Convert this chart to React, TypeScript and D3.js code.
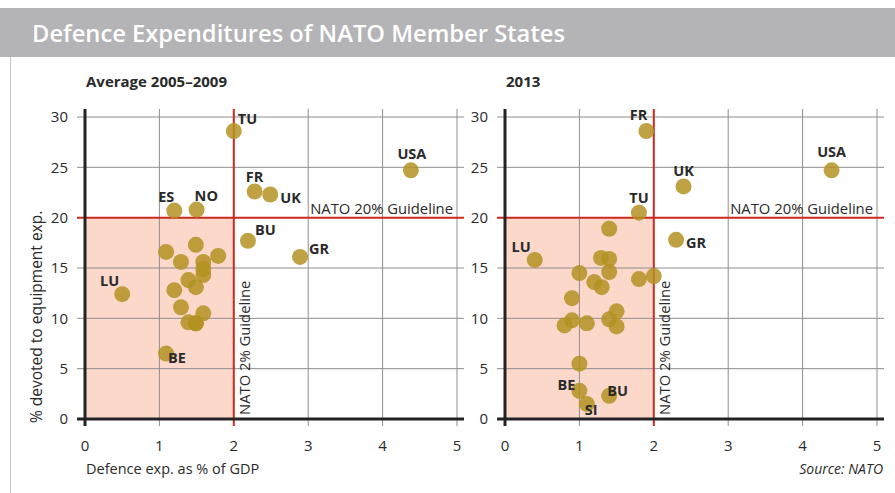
import React from "react";
import * as d3 from "d3";

const W = 895;
const H = 493;

const xTicks = [0, 1, 2, 3, 4, 5];
const yTicks = [0, 5, 10, 15, 20, 25, 30];

// Average 2005–2009
const avgNames = ["TU", "USA", "FR", "UK", "ES", "NO", "BU", "GR", "LU", "BE", "", "", "", "", "", "", "", "", "", "", "", "", "", "", ""];
const avgGdp = [2.0, 4.38, 2.28, 2.49, 1.2, 1.5, 2.19, 2.89, 0.5, 1.09, 1.09, 1.49, 1.29, 1.79, 1.59, 1.59, 1.59, 1.39, 1.2, 1.49, 1.29, 1.59, 1.39, 1.49, 1.49];
const avgEquip = [28.6, 24.7, 22.6, 22.3, 20.7, 20.8, 17.7, 16.1, 12.4, 6.5, 16.6, 17.3, 15.6, 16.2, 15.6, 14.9, 14.3, 13.8, 12.8, 13.1, 11.1, 10.5, 9.6, 9.5, 9.5];

// 2013
const y13Names = ["FR", "TU", "LU", "UK", "USA", "GR", "BE", "SI", "BU", "", "", "", "", "", "", "", "", "", "", "", "", "", "", "", "", ""];
const y13Gdp = [1.9, 1.8, 0.4, 2.4, 4.39, 2.3, 1.0, 1.1, 1.4, 1.4, 1.29, 1.4, 1.0, 1.4, 1.8, 2.0, 1.2, 1.3, 0.9, 0.9, 0.8, 1.1, 1.4, 1.5, 1.5, 1.0];
const y13Equip = [28.6, 20.5, 15.8, 23.1, 24.7, 17.8, 2.8, 1.5, 2.3, 18.9, 16.0, 15.9, 14.5, 14.6, 13.9, 14.2, 13.6, 13.1, 12.0, 9.8, 9.3, 9.5, 9.9, 10.7, 9.2, 5.5];

type Off = { dx: number; dy: number; a: "start" | "middle" | "end" };
const avgLabelPos: Record<string, Off> = {
  TU: { dx: 4, dy: -7, a: "start" },
  USA: { dx: 1, dy: -11, a: "middle" },
  FR: { dx: 0, dy: -9, a: "middle" },
  UK: { dx: 10, dy: 8, a: "start" },
  ES: { dx: 0, dy: -9, a: "end" },
  NO: { dx: -2, dy: -9, a: "start" },
  BU: { dx: 7, dy: -6, a: "start" },
  GR: { dx: 9, dy: -3, a: "start" },
  LU: { dx: -3, dy: -8, a: "end" },
  BE: { dx: 2, dy: 9, a: "start" },
};
const y13LabelPos: Record<string, Off> = {
  FR: { dx: 1, dy: -11, a: "end" },
  TU: { dx: 0, dy: -10, a: "middle" },
  LU: { dx: -4, dy: -8, a: "end" },
  UK: { dx: 0, dy: -10, a: "middle" },
  USA: { dx: 0, dy: -13, a: "middle" },
  GR: { dx: 10, dy: 8, a: "start" },
  BE: { dx: -4, dy: -1, a: "end" },
  SI: { dx: -2, dy: 11, a: "start" },
  BU: { dx: -2, dy: 0, a: "start" },
};

const FONT = "'Open Sans', 'Noto Sans', sans-serif";
const DOT = "#b39222";
const RED = "#cc2a1e";
const PINK = "#fbd8ca";
const GRID = "#8e8e8e";
const AXIS = "#232323";
const TEXT = "#2a2a2a";

function Panel({ x0, title, names, xs, ys, pos }: { x0: number; title: string; names: string[]; xs: number[]; ys: number[]; pos: Record<string, Off> }) {
  const x = d3.scaleLinear().domain([0, 5]).range([x0, x0 + 372]);
  const y = d3.scaleLinear().domain([0, 30]).range([419, 117]);
  const left = x(0) - 8;
  const right = x(5) + 7;
  const top = y(30) - 8;
  const bottom = y(0) + 7;
  return (
    <g>
      <text x={x(0) + 1} y={87} fontFamily={FONT} fontWeight={700} fontSize={15} fill={TEXT}>{title}</text>
      <rect x={x(0)} y={y(20)} width={x(2) - x(0)} height={y(0) - y(20)} fill={PINK} />
      {yTicks.filter((t) => t !== 0 && t !== 20).map((t) => (
        <line key={"h" + t} x1={left} x2={right} y1={y(t)} y2={y(t)} stroke={GRID} strokeWidth={1} />
      ))}
      {xTicks.filter((t) => t !== 0 && t !== 2).map((t) => (
        <line key={"v" + t} x1={x(t)} x2={x(t)} y1={top} y2={bottom} stroke={GRID} strokeWidth={1} />
      ))}
      <line x1={left} x2={right} y1={y(20)} y2={y(20)} stroke={RED} strokeWidth={2} />
      <line x1={x(2)} x2={x(2)} y1={top} y2={bottom} stroke={RED} strokeWidth={2} />
      <line x1={x(0)} x2={x(0)} y1={top} y2={bottom} stroke={AXIS} strokeWidth={3} />
      <line x1={left} x2={right} y1={y(0)} y2={y(0)} stroke={AXIS} strokeWidth={3} />
      {yTicks.map((t) => (
        <text key={"yt" + t} x={x(0) - 17} y={y(t)} dy="0.36em" textAnchor="end" fontFamily={FONT} fontSize={15} fill={TEXT}>{t}</text>
      ))}
      {xTicks.map((t) => (
        <text key={"xt" + t} x={x(t)} y={y(0) + 32} textAnchor="middle" fontFamily={FONT} fontSize={15} fill={TEXT}>{t}</text>
      ))}
      <text x={x(5) - 4} y={y(20) - 4} textAnchor="end" fontFamily={FONT} fontSize={14.8} fill={TEXT}>NATO 20% Guideline</text>
      <text transform={`translate(${x(2) + 16},${y(0) - 4}) rotate(-90)`} fontFamily={FONT} fontSize={14.8} fill={TEXT}>NATO 2% Guideline</text>
      {xs.map((v, i) => (
        <circle key={"c" + i} cx={x(v)} cy={y(ys[i])} r={8} fill={DOT} fillOpacity={0.85} />
      ))}
      {names.map((n, i) => {
        if (!n) return null;
        const p = pos[n];
        return (
          <text key={"l" + i} x={x(xs[i]) + p.dx} y={y(ys[i]) + p.dy} textAnchor={p.a} fontFamily={FONT} fontWeight={700} fontSize={14.5} fill={TEXT}>{n}</text>
        );
      })}
    </g>
  );
}

export default function App() {
  return (
    <svg width={W} height={H} style={{ position: "absolute", left: 0, top: 0, background: "#fff" }}>
      <rect x={0} y={0} width={W} height={H} fill="#fff" />
      <rect x={0} y={8} width={W} height={49} fill="#b4b4b6" />
      <text x={32} y={42} fontFamily={FONT} fontWeight={600} fontSize={23.5} fill="#fff" textLength={533} lengthAdjust="spacingAndGlyphs">Defence Expenditures of NATO Member States</text>
      <line x1={10.5} x2={10.5} y1={57} y2={H} stroke="#c8c8c8" strokeWidth={1} />
      <Panel x0={85} title="Average 2005–2009" names={avgNames} xs={avgGdp} ys={avgEquip} pos={avgLabelPos} />
      <Panel x0={505} title="2013" names={y13Names} xs={y13Gdp} ys={y13Equip} pos={y13LabelPos} />
      <text transform="translate(42,423) rotate(-90)" fontFamily={FONT} fontSize={15.5} fill={TEXT}>% devoted to equipment exp.</text>
      <text x={86} y={474} fontFamily={FONT} fontSize={14.5} fill={TEXT}>Defence exp. as % of GDP</text>
      <text x={883} y={474} textAnchor="end" fontFamily={FONT} fontStyle="italic" fontSize={14} fill={TEXT}>Source: NATO</text>
    </svg>
  );
}
